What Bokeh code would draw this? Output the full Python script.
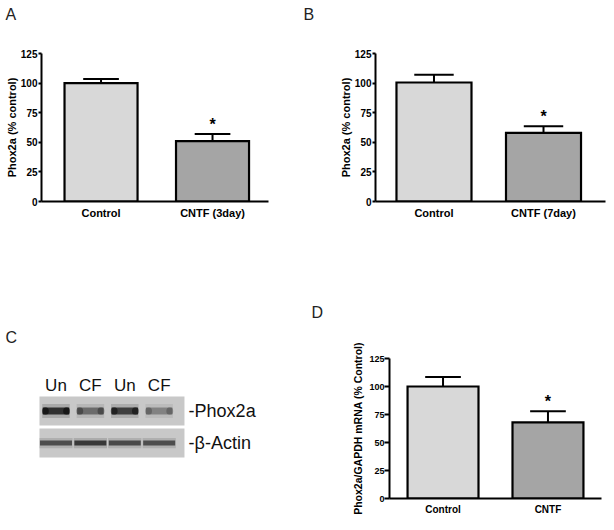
import numpy as np
from bokeh.plotting import figure
from bokeh.models import Range1d, FixedTicker, ColumnDataSource
from bokeh.layouts import row, column
from bokeh.embed import file_html
from bokeh.resources import INLINE
from bokeh.core.properties import value

FONT = "Liberation Sans"

# ---------------- data ----------------
a_categories = ["Control", "CNTF (3day)"]
a_values = [100, 51]
a_errors = [3.5, 6]
a_signif = [False, True]

b_categories = ["Control", "CNTF (7day)"]
b_values = [100.5, 58]
b_errors = [6.5, 5.5]
b_signif = [False, True]

d_categories = ["Control", "CNTF"]
d_values = [100, 68]
d_errors = [8.5, 10]
d_signif = [False, True]

y_ticks = [0, 25, 50, 75, 100, 125]

blot_lanes = ["Un", "CF", "Un", "CF"]
blot_rows = ["-Phox2a", "-\u03b2-Actin"]
phox2a_intensity = [0.95, 0.55, 0.85, 0.40]
actin_intensity = [0.75, 0.90, 0.78, 0.75]

bar_colors = ["#d8d8d8", "#a5a5a5"]

STRIP_H = 35


def set_letter(p, text, offset, standoff):
    p.title.text = text
    p.title.align = "left"
    p.title.vertical_align = "top"
    p.title.offset = offset
    p.title.standoff = standoff
    p.title.text_font = FONT
    p.title.text_font_style = "normal"
    p.title.text_font_size = "16px"
    p.title.text_color = "#222222"


def letter_strip(text, width, offset):
    s = figure(width=width, height=STRIP_H, output_backend="svg", toolbar_location=None,
               x_axis_location=None, y_axis_location=None,
               min_border_left=0, min_border_right=0, min_border_top=0, min_border_bottom=0)
    s.outline_line_color = None
    s.grid.visible = False
    set_letter(s, text, offset, 10)
    return s


def make_bar(cats, vals, errs, sig, ylabel, width, height, mb, xr, bar_w, cap,
             tick_fs, xlab_fs, ylab_fs, tick_out, lab_standoff, axlab_standoff):
    p = figure(width=width, height=height, x_range=Range1d(*xr), y_range=Range1d(0, 125),
               output_backend="svg", toolbar_location=None,
               min_border_left=mb[0], min_border_right=mb[1],
               min_border_top=mb[2], min_border_bottom=mb[3])
    p.outline_line_color = None
    p.grid.visible = False
    x = np.arange(len(cats))
    v = np.array(vals, float)
    e = np.array(errs, float)
    t = v + e
    src = ColumnDataSource(dict(x=x, v=v, t=t, x0=x - cap, x1=x + cap,
                                color=bar_colors[:len(cats)]))
    p.vbar(x='x', top='v', bottom=0, width=bar_w, fill_color='color',
           line_color='black', line_width=2.2, line_join='miter', source=src)
    p.segment(x0='x', y0='v', x1='x', y1='t', line_color='black', line_width=2, source=src)
    p.segment(x0='x0', y0='t', x1='x1', y1='t', line_color='black', line_width=2, source=src)
    sm = np.array(sig, bool)
    p.text(x=x[sm], y=t[sm], text=["*"] * int(sm.sum()), text_font=value(FONT),
           text_font_style="bold", text_font_size="16px", text_align="center",
           text_baseline="alphabetic", y_offset=-10, text_color="black")

    ya = p.yaxis[0]
    ya.ticker = FixedTicker(ticks=y_ticks)
    ya.axis_label = ylabel
    ya.axis_label_text_font = FONT
    ya.axis_label_text_font_style = "bold"
    ya.axis_label_text_font_size = ylab_fs
    ya.axis_label_text_color = "black"
    ya.axis_label_standoff = axlab_standoff
    ya.major_label_standoff = lab_standoff
    ya.major_label_text_font = FONT
    ya.major_label_text_font_style = "bold"
    ya.major_label_text_font_size = tick_fs
    ya.major_label_text_color = "black"
    ya.major_tick_out = tick_out
    ya.major_tick_in = 0
    ya.minor_tick_out = 0
    ya.minor_tick_in = 0
    ya.axis_line_width = 2
    ya.major_tick_line_width = 2

    xa = p.xaxis[0]
    xa.ticker = FixedTicker(ticks=[int(i) for i in x])
    xa.major_label_overrides = {int(i): c for i, c in zip(x, cats)}
    xa.major_label_text_font = FONT
    xa.major_label_text_font_style = "bold"
    xa.major_label_text_font_size = xlab_fs
    xa.major_label_text_color = "black"
    xa.major_label_standoff = 5
    xa.major_tick_out = 0
    xa.major_tick_in = 0
    xa.minor_tick_out = 0
    xa.minor_tick_in = 0
    xa.axis_line_width = 2
    return p


sA = letter_strip("A", 295, 5)
sB = letter_strip("B", 311, 8)

pA = make_bar(a_categories, a_values, a_errors, a_signif, "Phox2a (% control)",
              295, 230 - STRIP_H, (41, 27, 53 - STRIP_H, 29), (-0.534, 1.502), 0.655, 0.16,
              "10px", "11px", "11px", 3, 1, 0)
pB = make_bar(b_categories, b_values, b_errors, b_signif, "Phox2a (% control)",
              311, 230 - STRIP_H, (80, 1, 53 - STRIP_H, 29), (-0.534, 1.566), 0.685, 0.18,
              "10px", "11px", "11px", 3, 1, 0)
pD = make_bar(d_categories, d_values, d_errors, d_signif, "Phox2a/GAPDH mRNA (% Control)",
              306, 292, (89, 5, 128, 24), (-0.51, 1.51), 0.676, 0.17,
              "9px", "10px", "10.5px", 5, 0, 2)
set_letter(pD, "D", -78, 71)

# ---------------- western blot panel ----------------
pC = figure(width=300, height=292, x_range=Range1d(-1.613, 7.108),
            y_range=Range1d(2.734, -1.641), output_backend="svg", toolbar_location=None,
            x_axis_location=None, y_axis_location=None,
            min_border_left=0, min_border_right=0, min_border_top=128, min_border_bottom=24)
pC.outline_line_color = None
pC.grid.visible = False
set_letter(pC, "C", 5, 22)

n_lanes = len(blot_lanes)
lane_x = np.arange(n_lanes)
row_y = np.arange(len(blot_rows))
box_left, box_right = -0.48, 3.735
pC.rect(x=[(box_left + box_right) / 2] * len(row_y), y=row_y,
        width=box_right - box_left, height=0.906, fill_color="#c8c8c8", line_color=None)

for r, inten in enumerate([phox2a_intensity, actin_intensity]):
    inten = np.array(inten)
    bw = 0.77 if r == 0 else 0.93
    core_h = 0.22 if r == 0 else 0.16
    pC.rect(x=lane_x, y=[r] * n_lanes, width=bw * 1.04, height=core_h * 2.0,
            fill_color="black", fill_alpha=inten * 0.16, line_color=None)
    pC.rect(x=lane_x, y=[r] * n_lanes, width=bw, height=core_h,
            fill_color="black", fill_alpha=inten * 0.75, line_color=None)
    if r == 0:
        for s in (-1, 1):
            pC.ellipse(x=lane_x + s * bw * 0.4, y=[r] * n_lanes, width=0.2, height=0.24,
                       fill_color="black", fill_alpha=inten * 0.55, line_color=None)

pC.text(x=lane_x, y=[-0.8] * n_lanes, text=blot_lanes, text_font=value(FONT),
        text_font_size="17px", text_align="center", text_baseline="middle", text_color="#111111")
pC.text(x=[box_right + 0.12] * len(row_y), y=row_y, text=blot_rows, text_font=value(FONT),
        text_font_size="18px", text_align="left", text_baseline="middle", text_color="#111111")

layout = column(row(sA, sB), row(pA, pB), row(pC, pD))
open("out.html", "w").write(file_html(layout, INLINE))
